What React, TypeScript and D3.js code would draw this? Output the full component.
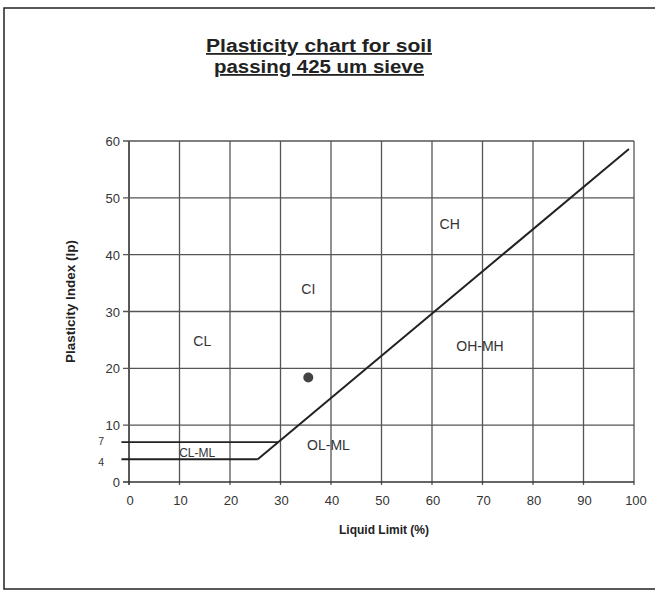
import * as d3 from 'd3'

const W = 655
const H = 591

// axis ranges
const xTicks = [0, 10, 20, 30, 40, 50, 60, 70, 80, 90, 100]
const yTicks = [0, 10, 20, 30, 40, 50, 60]
const yExtraTicks = [4, 7]

// A-line and CL-ML band
const aLine: [number, number][] = [
  [25.5, 4],
  [99, 58.6],
]
const clmlLower: [number, number][] = [
  [-1.5, 4],
  [25.5, 4],
]
const clmlUpper: [number, number][] = [
  [-1.5, 7],
  [29.6, 7],
]

// sample point
const samples = [{ ll: 35.5, pi: 18.4 }]

// zone labels
const zones = [
  { name: 'CL', ll: 14.5, pi: 24.8 },
  { name: 'CI', ll: 35.5, pi: 34 },
  { name: 'CH', ll: 63.5, pi: 45.4 },
  { name: 'OH-MH', ll: 69.5, pi: 24 },
  { name: 'OL-ML', ll: 39.5, pi: 6.5 },
  { name: 'CL-ML', ll: 13.5, pi: 5.3 },
]

const font = 'Arial, "Liberation Sans", sans-serif'

export default function App() {
  const x = d3.scaleLinear().domain([0, 100]).range([129, 634])
  const y = d3.scaleLinear().domain([0, 60]).range([482, 141])
  const line = d3
    .line<[number, number]>()
    .x((d) => x(d[0]))
    .y((d) => y(d[1]))

  return (
    <svg
      width={W}
      height={H}
      style={{ position: 'absolute', left: 0, top: 0, background: '#fff' }}
      fontFamily={font}
    >
      {/* outer frame */}
      <rect x={4} y={8} width={700} height={581} fill="none" stroke="#222" strokeWidth={1.5} />

      {/* title */}
      <g fontWeight="bold" fontSize={18} textAnchor="middle" fill="#222" textDecoration="underline">
        <text x={319} y={52} textLength={226} lengthAdjust="spacingAndGlyphs">
          Plasticity chart for soil
        </text>
        <text x={319} y={73} textLength={210} lengthAdjust="spacingAndGlyphs">
          passing 425 um sieve
        </text>
      </g>

      {/* grid */}
      {xTicks.map((t) => (
        <line
          key={'gx' + t}
          x1={x(t)}
          x2={x(t)}
          y1={y(60)}
          y2={y(0) + 3}
          stroke={t === 0 ? '#222' : '#555'}
          strokeWidth={t === 0 ? 1.5 : 1.3}
        />
      ))}
      {yTicks.map((t) => (
        <line
          key={'gy' + t}
          x1={x(0) - 6}
          x2={x(100)}
          y1={y(t)}
          y2={y(t)}
          stroke={t === 0 ? '#333' : '#555'}
          strokeWidth={1.3}
        />
      ))}

      {/* CL-ML band lines */}
      <path d={line(clmlUpper)!} fill="none" stroke="#222" strokeWidth={1.8} />
      <path d={line(clmlLower)!} fill="none" stroke="#222" strokeWidth={2} />
      {/* A-line */}
      <path d={line(aLine)!} fill="none" stroke="#222" strokeWidth={2} />

      {/* y tick labels */}
      <g fontSize={13} textAnchor="end" fill="#333">
        {yTicks.map((t) => (
          <text key={'ly' + t} x={120} y={y(t) + 5}>
            {t}
          </text>
        ))}
      </g>
      <g fontSize={10.5} textAnchor="end" fill="#333">
        {yExtraTicks.map((t) => (
          <text key={'le' + t} x={104} y={y(t) + (t === 4 ? 7 : 3)}>
            {t}
          </text>
        ))}
      </g>

      {/* x tick labels */}
      <g fontSize={13} textAnchor="middle" fill="#333">
        {xTicks.map((t) => (
          <text key={'lx' + t} x={x(t) + (t === 100 ? 2 : 1)} y={505}>
            {t}
          </text>
        ))}
      </g>

      {/* axis titles */}
      <text x={384} y={534} fontSize={12} fontWeight="bold" textAnchor="middle" fill="#222">
        Liquid Limit (%)
      </text>
      <text
        transform={`translate(75,${y(30) - 10}) rotate(-90)`}
        fontSize={13.5}
        fontWeight="bold"
        textAnchor="middle"
        fill="#222"
      >
        Plasticity Index (Ip)
      </text>

      {/* zone labels */}
      <g textAnchor="middle" fill="#333">
        {zones.map((z) => (
          <text key={z.name} x={x(z.ll)} y={y(z.pi) + 5} fontSize={z.name === 'CL-ML' ? 12 : 14}>
            {z.name}
          </text>
        ))}
      </g>

      {/* sample */}
      {samples.map((s, i) => (
        <circle key={i} cx={x(s.ll)} cy={y(s.pi)} r={5} fill="#444" />
      ))}
    </svg>
  )
}
